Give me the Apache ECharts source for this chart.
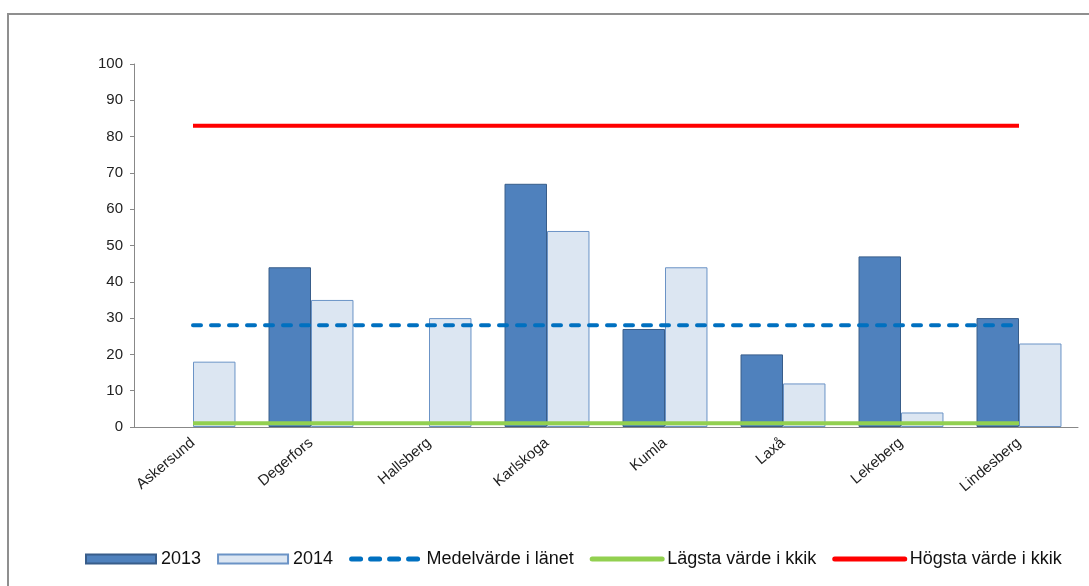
<!DOCTYPE html>
<html>
<head>
<meta charset="utf-8">
<script src="https://cdn.jsdelivr.net/npm/echarts@6/dist/echarts.min.js"></script>
<style>
html,body{margin:0;padding:0;background:#fff;}
#chart{width:1089px;height:586px;}
</style>
</head>
<body>
<div id="chart"></div>
<script>
const categories = ['Askersund','Degerfors','Hallsberg','Karlskoga','Kumla','Laxå','Lekeberg','Lindesberg'];
const values2013 = [null, 44, null, 67, 27, 20, 47, 30];
const values2014 = [18, 35, 30, 54, 44, 12, 4, 23];
const meanCounty = [28, 28, 28, 28, 28, 28, 28, 28];
const lowestKkik = [1, 1, 1, 1, 1, 1, 1, 1];
const highestKkik = [83, 83, 83, 83, 83, 83, 83, 83];
const yTicks = {min: 0, max: 100, interval: 10};

const chart = echarts.init(document.getElementById('chart'), null, {renderer: 'canvas'});
const font = 'Liberation Sans, Arial, sans-serif';
chart.setOption({
  animation: false,
  backgroundColor: '#fff',
  textStyle: {fontFamily: font},
  graphic: [{
    type: 'rect', silent: true, z: -10,
    shape: {x: 8, y: 14, width: 1200, height: 700},
    style: {fill: 'none', stroke: '#8f8f8f', lineWidth: 2}
  }],
  grid: {left: 134, right: 11, top: 64, bottom: 159, containLabel: false},
  legend: {
    top: 545, left: 80,
    itemWidth: 70, itemHeight: 9, itemGap: 16,
    textStyle: {fontSize: 18, color: '#111', fontFamily: font},
    data: [
      {name: '2013', icon: 'rect'},
      {name: '2014', icon: 'rect'},
      {name: 'Medelvärde i länet', itemStyle: {opacity: 0},
        lineStyle: {width: 5, type: [9, 10], cap: 'round', color: '#0070C0'}},
      {name: 'Lägsta värde i kkik', itemStyle: {opacity: 0},
        lineStyle: {width: 5, cap: 'round', color: '#92D050'}},
      {name: 'Högsta värde i kkik', itemStyle: {opacity: 0},
        lineStyle: {width: 5, cap: 'round', color: '#FF0000'}}
    ]
  },
  xAxis: {
    type: 'category', data: categories,
    axisLine: {lineStyle: {color: '#888', width: 1}},
    axisTick: {show: false},
    axisLabel: {rotate: 40, fontSize: 15, color: '#222', margin: 14, interval: 0}
  },
  yAxis: {
    type: 'value', min: yTicks.min, max: yTicks.max, interval: yTicks.interval,
    axisLine: {show: true, lineStyle: {color: '#888', width: 1}},
    axisTick: {show: true, length: 4, lineStyle: {color: '#888'}},
    splitLine: {show: false},
    axisLabel: {fontSize: 15, color: '#222', margin: 11}
  },
  series: [
    {name: '2013', type: 'bar', data: values2013, barGap: '0%', barCategoryGap: '28%',
      itemStyle: {color: '#4F81BD', borderColor: '#385D8A', borderWidth: 1}},
    {name: '2014', type: 'bar', data: values2014,
      itemStyle: {color: '#DCE6F2', borderColor: '#6B93C6', borderWidth: 1}},
    {name: 'Medelvärde i länet', type: 'line', data: meanCounty, symbol: 'none', z: 5,
      itemStyle: {color: '#0070C0'},
      lineStyle: {color: '#0070C0', width: 4, type: [8, 10], cap: 'round'}},
    {name: 'Lägsta värde i kkik', type: 'line', data: lowestKkik, symbol: 'none', z: 5,
      itemStyle: {color: '#92D050'},
      lineStyle: {color: '#92D050', width: 4}},
    {name: 'Högsta värde i kkik', type: 'line', data: highestKkik, symbol: 'none', z: 5,
      itemStyle: {color: '#FF0000'},
      lineStyle: {color: '#FF0000', width: 4}}
  ]
});
</script>
</body>
</html>
